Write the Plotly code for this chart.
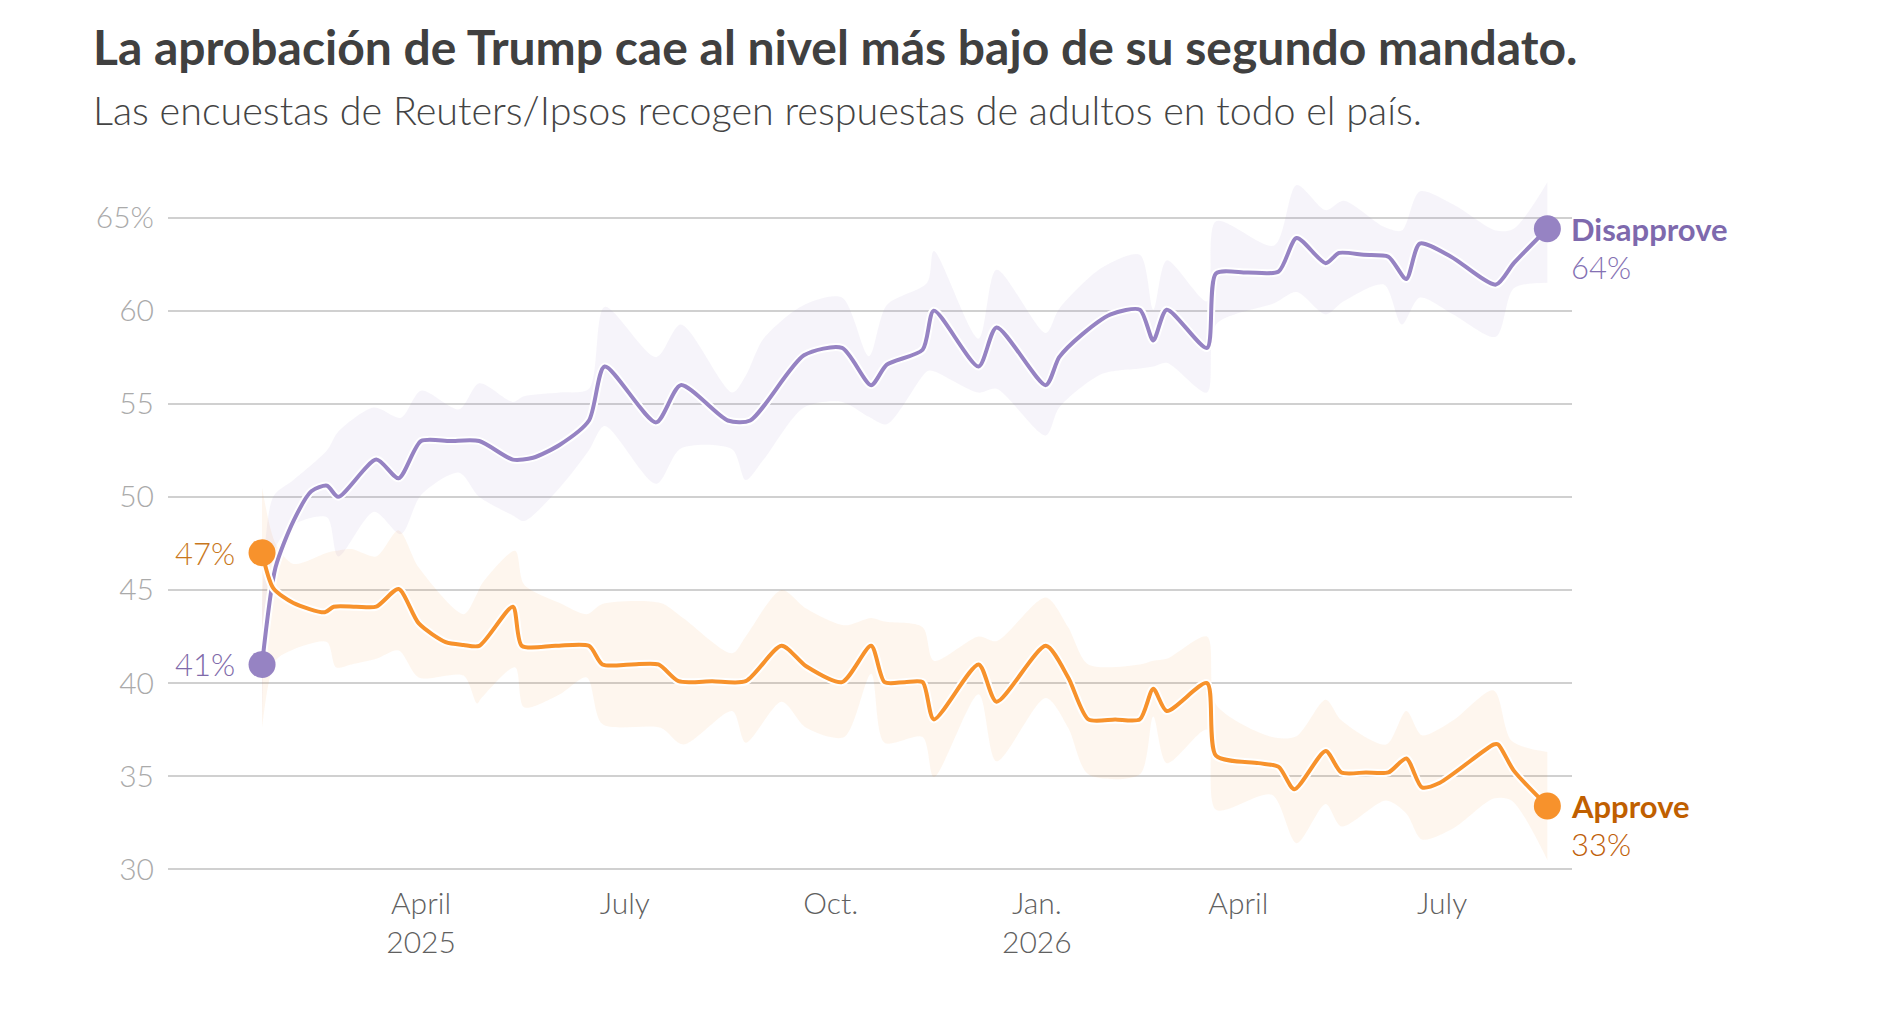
import plotly.graph_objects as go

# --- data ---
dis_dates = ["2025-01-20", "2025-01-26", "2025-02-03", "2025-02-11", "2025-02-18", "2025-02-23",
             "2025-03-12", "2025-03-22", "2025-04-01", "2025-04-14", "2025-04-27", "2025-05-12",
             "2025-05-21", "2025-06-02", "2025-06-15", "2025-06-22", "2025-07-15", "2025-07-26",
             "2025-08-16", "2025-08-26", "2025-09-19", "2025-10-06", "2025-10-19", "2025-10-26",
             "2025-11-11", "2025-11-16", "2025-12-06", "2025-12-14", "2026-01-05", "2026-01-11",
             "2026-01-21", "2026-02-03", "2026-02-16", "2026-02-22", "2026-02-28", "2026-03-18",
             "2026-03-22", "2026-04-05", "2026-04-19", "2026-04-27", "2026-05-10", "2026-05-16",
             "2026-05-27", "2026-06-07", "2026-06-15", "2026-06-21", "2026-07-05", "2026-07-25",
             "2026-08-02", "2026-08-17"]
dis_vals = [41.0, 46.2, 48.7, 50.3, 50.6, 50.0,
            52.0, 51.0, 53.0, 53.0, 53.0, 52.0,
            52.1, 52.8, 54.1, 57.0, 54.0, 56.0,
            54.1, 54.1, 57.6, 58.0, 56.0, 57.1,
            57.9, 60.0, 57.0, 59.1, 56.0, 57.5,
            58.7, 59.8, 60.05, 58.4, 60.05, 58.0,
            62.0, 62.05, 62.1, 63.9, 62.55, 63.1,
            63.0, 62.9, 61.7, 63.6, 62.9, 61.4,
            62.55, 64.4]

app_dates = ["2025-01-20", "2025-01-25", "2025-02-03", "2025-02-17", "2025-02-21", "2025-03-03",
             "2025-03-12", "2025-03-22", "2025-03-31", "2025-04-12", "2025-04-20", "2025-04-27",
             "2025-05-12", "2025-05-16", "2025-05-31", "2025-06-15", "2025-06-21", "2025-07-04",
             "2025-07-16", "2025-07-25", "2025-08-09", "2025-08-24", "2025-09-09", "2025-09-20",
             "2025-10-06", "2025-10-19", "2025-10-25", "2025-11-03", "2025-11-11", "2025-11-16",
             "2025-12-06", "2025-12-14", "2026-01-05", "2026-01-15", "2026-01-24", "2026-02-05",
             "2026-02-16", "2026-02-22", "2026-02-28", "2026-03-18", "2026-03-22", "2026-04-10",
             "2026-04-19", "2026-04-26", "2026-05-10", "2026-05-17", "2026-05-28", "2026-06-07",
             "2026-06-15", "2026-06-22", "2026-06-30", "2026-07-24", "2026-07-26", "2026-08-02",
             "2026-08-17"]
app_vals = [47.0, 45.1, 44.3, 43.8, 44.1, 44.1,
            44.1, 45.05, 43.2, 42.2, 42.05, 42.0,
            44.1, 42.0, 42.0, 42.0, 41.0, 41.0,
            41.0, 40.1, 40.1, 40.1, 42.0, 40.9,
            40.05, 42.0, 40.05, 40.05, 40.05, 38.05,
            41.0, 39.0, 42.0, 40.3, 38.05, 38.05,
            38.05, 39.7, 38.5, 40.0, 36.1, 35.7,
            35.5, 34.3, 36.35, 35.2, 35.2, 35.2,
            35.95, 34.4, 34.65, 36.7, 36.7, 35.3,
            33.4]

dis_band_dates = ["2025-01-20", "2025-01-25", "2025-02-03", "2025-02-18", "2025-02-23", "2025-03-11",
                  "2025-03-23", "2025-04-01", "2025-04-18", "2025-04-27", "2025-05-12", "2025-05-17",
                  "2025-06-02", "2025-06-15", "2025-06-22", "2025-07-15", "2025-07-26", "2025-08-18",
                  "2025-08-24", "2025-09-01", "2025-09-19", "2025-10-06", "2025-10-18", "2025-10-26",
                  "2025-11-13", "2025-11-16", "2025-12-06", "2025-12-14", "2026-01-05", "2026-01-11",
                  "2026-01-30", "2026-02-16", "2026-02-22", "2026-02-28", "2026-03-18", "2026-03-22",
                  "2026-04-17", "2026-04-27", "2026-05-10", "2026-05-18", "2026-06-05", "2026-06-13",
                  "2026-06-21", "2026-07-06", "2026-07-25", "2026-08-02", "2026-08-17"]
dis_low = [38.0, 47.0, 48.5, 48.9, 46.8, 49.2,
           48.0, 50.1, 51.3, 50.0, 49.0, 48.7,
           50.5, 52.5, 53.8, 50.7, 52.6, 52.55,
           50.9, 52.0, 54.8, 55.1, 54.3, 53.9,
           56.75, 56.75, 55.6, 55.8, 53.3, 54.8,
           56.6, 56.9, 57.0, 57.2, 55.6, 59.25,
           60.4, 61.0, 59.8, 60.5, 61.4, 59.25,
           60.7, 59.8, 58.6, 61.2, 61.5]
dis_high = [44.0, 50.0, 50.9, 52.5, 53.5, 54.8,
            54.25, 55.7, 54.7, 56.1, 55.1, 55.4,
            55.6, 55.8, 60.2, 57.5, 59.25, 55.6,
            56.5, 58.5, 60.3, 60.7, 57.55, 60.3,
            61.5, 63.2, 58.5, 62.2, 58.8, 60.1,
            62.3, 63.0, 60.05, 62.7, 60.5, 64.8,
            63.5, 66.75, 65.4, 65.9, 64.5, 64.3,
            66.4, 65.7, 64.3, 64.4, 66.9]

app_band_dates = ["2025-01-20", "2025-01-26", "2025-02-03", "2025-02-18", "2025-02-22", "2025-03-01",
                  "2025-03-12", "2025-03-22", "2025-03-31", "2025-04-20", "2025-04-26", "2025-04-28",
                  "2025-05-13", "2025-05-17", "2025-06-02", "2025-06-14", "2025-06-21", "2025-07-17",
                  "2025-07-27", "2025-08-18", "2025-08-24", "2025-09-09", "2025-09-20", "2025-10-07",
                  "2025-10-19", "2025-10-25", "2025-11-11", "2025-11-16", "2025-12-06", "2025-12-14",
                  "2026-01-05", "2026-01-15", "2026-01-24", "2026-02-16", "2026-02-22", "2026-02-28",
                  "2026-03-18", "2026-03-22", "2026-04-16", "2026-04-27", "2026-05-10", "2026-05-17",
                  "2026-06-06", "2026-06-15", "2026-06-22", "2026-07-06", "2026-07-24", "2026-08-01",
                  "2026-08-17"]
app_low = [37.6, 41.2, 41.8, 42.2, 40.85, 41.0,
           41.3, 41.75, 40.3, 40.4, 38.9, 39.2,
           40.85, 38.7, 39.4, 40.3, 37.8, 37.6,
           36.7, 38.5, 36.8, 39.0, 37.6, 37.1,
           40.5, 36.8, 37.1, 34.95, 39.4, 35.8,
           39.2, 37.6, 35.1, 35.1, 38.2, 35.7,
           37.5, 33.2, 34.0, 31.4, 33.5, 32.3,
           33.7, 33.0, 31.6, 32.2, 33.8, 33.7,
           30.5]
app_high = [50.5, 47.5, 46.4, 47.0, 47.1, 47.2,
            46.8, 48.2, 46.2, 43.7, 44.8, 45.3,
            47.1, 45.3, 44.3, 43.7, 44.25, 44.3,
            43.5, 41.6, 42.5, 45.0, 44.0, 43.1,
            43.5, 43.3, 43.0, 41.2, 42.5, 42.25,
            44.6, 43.0, 41.0, 41.0, 41.2, 41.3,
            42.5, 38.85, 37.1, 37.15, 39.1, 38.0,
            36.7, 38.5, 37.2, 38.0, 39.6, 36.9,
            36.3]

y_ticks = [30, 35, 40, 45, 50, 55, 60, 65]
y_labels = ["30", "35", "40", "45", "50", "55", "60", "65%"]
x_ticks = ["2025-04-01", "2025-07-01", "2025-10-01", "2026-01-01", "2026-04-01", "2026-07-01"]
x_labels = ["April<br>2025", "July", "Oct.", "Jan.<br>2026", "April", "July"]

PURPLE = "#9683c3"
ORANGE = "#f7922c"
FONT = "Lato"

fig = go.Figure()

# uncertainty bands
for dates, lo, hi, col in [(dis_band_dates, dis_low, dis_high, "rgba(150,131,195,0.09)"),
                           (app_band_dates, app_low, app_high, "rgba(247,146,44,0.08)")]:
    fig.add_trace(go.Scatter(x=dates, y=lo, mode="lines", line=dict(width=0, shape="spline", smoothing=0.8),
                             hoverinfo="skip", showlegend=False))
    fig.add_trace(go.Scatter(x=dates, y=hi, mode="lines", line=dict(width=0, shape="spline", smoothing=0.8),
                             fill="tonexty", fillcolor=col, hoverinfo="skip", showlegend=False))

# lines with a white halo
for dates, vals, col in [(dis_dates, dis_vals, PURPLE), (app_dates, app_vals, ORANGE)]:
    fig.add_trace(go.Scatter(x=dates, y=vals, mode="lines",
                             line=dict(color="white", width=8, shape="spline", smoothing=0.7),
                             hoverinfo="skip", showlegend=False))
    fig.add_trace(go.Scatter(x=dates, y=vals, mode="lines",
                             line=dict(color=col, width=4, shape="spline", smoothing=0.7),
                             showlegend=False))
    fig.add_trace(go.Scatter(x=[dates[0], dates[-1]], y=[vals[0], vals[-1]], mode="markers",
                             marker=dict(color=col, size=27), showlegend=False))

light = dict(family=FONT, size=31, weight=300)
ann = []
ann.append(dict(text="La aprobación de Trump cae al nivel más bajo de su segundo mandato.",
                xref="paper", yref="paper", x=-0.055, y=1.177, xanchor="left", yanchor="middle",
                showarrow=False, font=dict(family=FONT, size=48, weight=700, color="#404040")))
ann.append(dict(text="Las encuestas de Reuters/Ipsos recogen respuestas de adultos en todo el país.",
                xref="paper", yref="paper", x=-0.055, y=1.088, xanchor="left", yanchor="middle",
                showarrow=False, font=dict(family=FONT, size=39.5, weight=300, color="#444444")))
# end labels
ann.append(dict(text="<b>Disapprove</b>", x=dis_dates[-1], y=dis_vals[-1], xanchor="left", yanchor="middle",
                xshift=22, showarrow=False, font=dict(family=FONT, size=31, color="#7e69ad")))
ann.append(dict(text=f"{round(dis_vals[-1])}%", x=dis_dates[-1], y=dis_vals[-1], xanchor="left",
                yanchor="middle", xshift=22, yshift=-38, showarrow=False, font=dict(light, color="#8470b3")))
ann.append(dict(text="<b>Approve</b>", x=app_dates[-1], y=app_vals[-1], xanchor="left", yanchor="middle",
                xshift=22, showarrow=False, font=dict(family=FONT, size=31, color="#c05f00")))
ann.append(dict(text=f"{round(app_vals[-1])}%", x=app_dates[-1], y=app_vals[-1], xanchor="left",
                yanchor="middle", xshift=22, yshift=-38, showarrow=False, font=dict(light, color="#c0600a")))
# start labels
ann.append(dict(text=f"{round(app_vals[0])}%", x=app_dates[0], y=app_vals[0], xanchor="right",
                yanchor="middle", xshift=-25, showarrow=False, font=dict(light, color="#c8771c")))
ann.append(dict(text=f"{round(dis_vals[0])}%", x=dis_dates[0], y=dis_vals[0], xanchor="right",
                yanchor="middle", xshift=-25, showarrow=False, font=dict(light, color="#7f6aaa")))

fig.update_layout(
    width=1877, height=1011,
    margin=dict(l=160, r=313, t=163, b=146),
    paper_bgcolor="white", plot_bgcolor="white",
    annotations=ann,
    showlegend=False,
    xaxis=dict(range=["2024-12-09", "2026-08-28"], tickvals=x_ticks, ticktext=x_labels,
               showgrid=False, zeroline=False, showline=False, ticks="", ticklabelstandoff=10,
               tickfont=dict(family=FONT, size=30, weight=300, color="#606060")),
    yaxis=dict(range=[29.8, 67.5], tickvals=y_ticks, ticktext=y_labels,
               showgrid=True, gridcolor="#d0d0d0", gridwidth=2, zeroline=False, showline=False,
               ticks="", ticklabelstandoff=13,
               tickfont=dict(family=FONT, size=30, weight=300, color="#aaaaaa")),
)

fig.write_html("out.html")
